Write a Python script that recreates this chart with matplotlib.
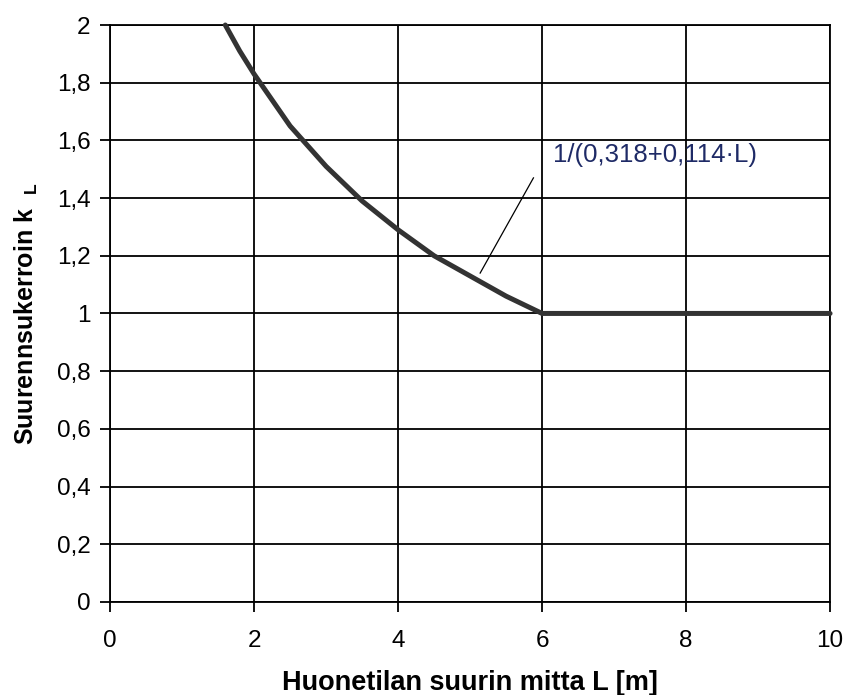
import matplotlib.pyplot as plt

plt.rcParams['font.family'] = ['Liberation Sans', 'DejaVu Sans']

# values
L_vals = [1.6, 1.8, 2.0, 2.25, 2.5, 2.75, 3.0, 3.5, 4.0, 4.5, 5.0, 5.5, 6.0, 8.0, 10.0]
k_vals = [2.0, 1.91, 1.83, 1.74, 1.65, 1.58, 1.51, 1.39, 1.29, 1.20, 1.13, 1.06, 1.0, 1.0, 1.0]

x_ticks = [0, 2, 4, 6, 8, 10]
y_ticks = [0, 0.2, 0.4, 0.6, 0.8, 1.0, 1.2, 1.4, 1.6, 1.8, 2.0]
y_ticklabels = ['0', '0,2', '0,4', '0,6', '0,8', '1', '1,2', '1,4', '1,6', '1,8', '2']

fig = plt.figure(figsize=(8.47, 6.95), dpi=100)
ax = fig.add_axes([0.130, 0.134, 0.850, 0.830])

ax.plot(L_vals, k_vals, color='#333333', lw=3.6, solid_capstyle='round',
        solid_joinstyle='round', zorder=3, clip_on=False)

ax.set_xlim(0, 10)
ax.set_ylim(0, 2)
ax.set_xticks(x_ticks)
ax.set_yticks(y_ticks)
ax.set_yticklabels(y_ticklabels)
ax.grid(True, color='black', lw=1.3)
ax.set_axisbelow(True)
for s in ax.spines.values():
    s.set_linewidth(1.3)
ax.tick_params(direction='out', length=7, width=1.3, labelsize=17.5)
ax.tick_params(axis='x', pad=13)
ax.tick_params(axis='y', pad=7)

ax.set_xlabel('Huonetilan suurin mitta L [m]', fontsize=19.5, fontweight='bold')
ax.xaxis.set_label_coords(0.5, -0.118)
ax.set_ylabel(r'Suurennsukerroin k  $_{\mathregular{L}}$', fontsize=18, fontweight='bold')
ax.yaxis.set_label_coords(-0.097, 0.5)

# leader line and formula label
ax.plot([5.14, 5.88], [1.14, 1.47], color='black', lw=0.9)
ax.text(6.15, 1.55, '1/(0,318+0,114·L)', fontsize=18.5, color='#1e2a66', va='center')

fig.savefig('out.png', dpi=100)
